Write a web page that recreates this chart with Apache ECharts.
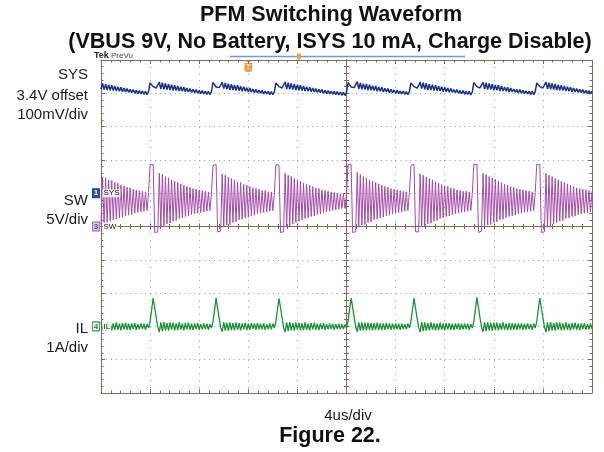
<!DOCTYPE html>
<html><head><meta charset="utf-8">
<script src="https://cdn.jsdelivr.net/npm/echarts@6/dist/echarts.min.js"></script>
<style>html,body{margin:0;padding:0;background:#fff}#c{width:604px;height:452px}</style>
</head><body><div id="c"></div>
<script>
// time base: one sample every 0.125 us, 10 div x 4 us = 40 us
const DT = 0.125;
const TIME_MAX = 40;
const TRIGGER_T = 12;

// SW node voltage (V), read burst by burst
const SW = [
  0.3,7.4,0.4,7.3,0.6,7.0,0.8,6.9,1.0,6.6,1.1,6.5,1.3,6.2,1.4,6.1,1.6,5.9,1.7,5.8,1.8,5.6,2.0,5.5,2.1,5.4,2.2,5.3,2.3,5.2,2.4,5.1,
  9.3,9.4,9.3,-0.9,-1.0,-0.8,8.0,-0.1,7.8,0.1,7.5,0.4,7.3,0.5,7.0,0.8,6.8,0.9,6.6,1.2,6.4,1.3,6.2,1.5,6.0,1.6,5.9,1.8,5.7,1.9,5.6,2.0,5.5,2.1,5.4,2.2,5.3,2.3,5.2,2.4,5.0,
  9.2,9.4,9.3,-0.8,-1.0,-0.7,7.9,0.0,7.7,0.2,7.4,0.3,7.2,0.6,7.0,0.7,6.7,1.0,6.6,1.1,6.3,1.3,6.2,1.4,6.0,1.6,5.8,1.7,5.7,1.9,5.6,2.0,5.4,2.1,5.4,2.2,5.2,2.3,5.2,2.4,5.1,
  9.3,9.4,9.2,-0.9,-1.0,-0.8,8.0,-0.1,7.7,0.1,7.5,0.4,7.2,0.6,7.0,0.8,6.8,1.0,6.5,1.2,6.4,1.3,6.2,1.5,6.0,1.6,5.8,1.8,5.7,1.9,5.5,2.0,5.4,2.2,5.3,2.3,5.2,2.4,5.1,2.5,5.0,2.6,4.9,2.7,4.9,2.7,4.8,
  9.3,9.4,9.3,-0.9,-1.0,-0.8,8.1,-0.1,7.8,0.2,7.5,0.3,7.3,0.6,7.0,0.7,6.8,1.0,6.6,1.1,6.4,1.3,6.2,1.4,6.0,1.6,5.9,1.7,5.7,1.9,5.6,2.0,5.5,2.1,5.4,2.2,5.3,2.3,5.2,2.4,5.1,
  9.2,9.4,9.3,-0.8,-1.0,-0.8,7.9,0.0,7.7,0.1,7.4,0.4,7.2,0.5,7.0,0.8,6.7,0.9,6.5,1.2,6.3,1.3,6.1,1.5,6.0,1.6,5.8,1.8,5.7,1.9,5.5,2.0,5.4,2.1,5.3,2.2,5.3,2.3,5.2,2.4,5.0,
  9.3,9.4,9.3,-0.9,-1.0,-0.7,8.0,-0.1,7.8,0.2,7.5,0.3,7.3,0.6,7.1,0.7,6.8,1.0,6.6,1.1,6.4,1.3,6.2,1.5,6.0,1.6,5.9,1.7,5.7,1.9,5.6,2.0,5.5,2.1,5.4,2.2,5.3,2.3,5.2,2.4,5.1,
  9.3,9.4,9.3,-0.9,-1.0,-0.8,8.0,-0.1,7.7,0.1,7.5,0.4,7.2,0.6,7.0,0.8,6.8,0.9,6.6,1.2,6.4,1.3,6.2,1.5,6.0,1.6,5.8,1.8,5.7,1.9,5.6,2.0,5.5,2.1,5.4,2.2,5.3
];

// SYS voltage (V)
const SYS = [
  3.712,3.730,3.711,3.727,3.710,3.726,3.709,3.724,3.708,3.722,3.707,3.720,3.706,3.718,3.705,3.716,3.704,3.714,3.703,3.712,3.702,3.711,3.700,3.709,3.699,3.708,3.698,3.707,3.697,3.706,3.696,3.705,
  3.731,3.728,3.720,3.716,3.716,3.722,3.734,3.713,3.732,3.712,3.730,3.711,3.728,3.710,3.726,3.709,3.724,3.708,3.722,3.707,3.720,3.706,3.718,3.705,3.716,3.704,3.714,3.703,3.712,3.702,3.711,3.700,3.709,3.699,3.708,3.698,3.707,3.697,3.706,3.696,3.705,
  3.733,3.727,3.719,3.715,3.717,3.723,3.733,3.714,3.731,3.712,3.729,3.710,3.727,3.710,3.725,3.708,3.724,3.708,3.721,3.706,3.720,3.706,3.717,3.704,3.716,3.704,3.713,3.702,3.712,3.701,3.710,3.700,3.709,3.698,3.707,3.698,3.706,3.696,3.705,3.696,3.704,
  3.731,3.728,3.720,3.716,3.716,3.722,3.734,3.713,3.732,3.712,3.730,3.711,3.728,3.710,3.726,3.709,3.724,3.708,3.722,3.707,3.720,3.706,3.718,3.705,3.716,3.704,3.714,3.703,3.712,3.702,3.711,3.700,3.709,3.699,3.708,3.698,3.707,3.697,3.706,3.696,3.705,3.695,3.704,3.694,3.703,3.694,3.702,
  3.732,3.727,3.719,3.716,3.717,3.722,3.735,3.713,3.731,3.712,3.729,3.711,3.728,3.709,3.726,3.709,3.723,3.708,3.722,3.706,3.719,3.706,3.718,3.704,3.715,3.704,3.714,3.702,3.712,3.702,3.710,3.700,3.709,3.699,3.707,3.698,3.707,3.697,3.705,3.696,3.705,
  3.731,3.728,3.720,3.715,3.716,3.723,3.734,3.714,3.732,3.712,3.730,3.710,3.727,3.710,3.726,3.708,3.724,3.708,3.721,3.707,3.720,3.705,3.718,3.705,3.716,3.703,3.714,3.703,3.711,3.702,3.711,3.700,3.708,3.699,3.708,3.697,3.706,3.697,3.706,3.695,3.704,
  3.732,3.728,3.720,3.716,3.716,3.722,3.733,3.713,3.732,3.711,3.730,3.711,3.728,3.709,3.725,3.709,3.724,3.707,3.722,3.707,3.719,3.706,3.718,3.704,3.716,3.704,3.713,3.703,3.712,3.701,3.711,3.700,3.709,3.699,3.707,3.698,3.707,3.696,3.706,3.696,3.705,
  3.731,3.728,3.720,3.716,3.716,3.722,3.734,3.713,3.732,3.712,3.730,3.711,3.728,3.710,3.726,3.709,3.724,3.708,3.722,3.707,3.720,3.706,3.718,3.705,3.716,3.704,3.714,3.703,3.712,3.702,3.711,3.700,3.709,3.699,3.708,3.698,3.707
];

// inductor current (A)
const IL = [
  0.13,-0.12,0.10,-0.13,0.12,-0.10,0.11,-0.12,0.09,-0.11,0.12,-0.10,0.08,-0.12,0.10,-0.09,0.11,-0.10,0.08,-0.11,0.09,-0.08,0.10,-0.10,0.07,-0.09,0.09,-0.08,0.08,-0.10,0.07,-0.05,
  0.15,0.50,0.85,0.56,0.26,-0.02,-0.17,0.12,-0.14,0.13,-0.12,0.10,-0.13,0.12,-0.10,0.11,-0.12,0.09,-0.11,0.12,-0.10,0.08,-0.12,0.10,-0.09,0.11,-0.10,0.08,-0.11,0.09,-0.08,0.10,-0.10,0.07,-0.09,0.09,-0.08,0.08,-0.10,0.07,-0.05,
  0.14,0.49,0.86,0.55,0.25,-0.03,-0.16,0.13,-0.13,0.11,-0.13,0.12,-0.11,0.10,-0.12,0.12,-0.10,0.10,-0.12,0.09,-0.09,0.11,-0.11,0.08,-0.10,0.10,-0.08,0.09,-0.10,0.10,-0.09,0.08,-0.09,0.09,-0.10,0.07,-0.08,0.09,-0.09,0.08,-0.04,
  0.15,0.50,0.84,0.56,0.26,-0.02,-0.17,0.12,-0.14,0.13,-0.12,0.10,-0.13,0.12,-0.10,0.11,-0.12,0.09,-0.11,0.12,-0.10,0.08,-0.12,0.10,-0.09,0.11,-0.10,0.08,-0.11,0.09,-0.08,0.10,-0.10,0.07,-0.09,0.09,-0.08,0.08,-0.10,0.07,-0.08,0.08,-0.09,0.07,-0.08,0.06,-0.05,
  0.16,0.51,0.85,0.57,0.27,-0.01,-0.16,0.12,-0.13,0.12,-0.12,0.11,-0.12,0.11,-0.11,0.10,-0.12,0.10,-0.10,0.11,-0.11,0.09,-0.11,0.09,-0.10,0.10,-0.09,0.09,-0.10,0.08,-0.09,0.09,-0.09,0.08,-0.10,0.08,-0.08,0.07,-0.09,0.08,-0.05,
  0.15,0.50,0.85,0.55,0.25,-0.02,-0.17,0.13,-0.14,0.12,-0.13,0.10,-0.12,0.12,-0.10,0.10,-0.12,0.09,-0.11,0.11,-0.10,0.09,-0.12,0.10,-0.09,0.10,-0.10,0.08,-0.11,0.09,-0.08,0.09,-0.10,0.08,-0.09,0.08,-0.08,0.08,-0.10,0.07,-0.05,
  0.15,0.51,0.87,0.57,0.26,-0.02,-0.16,0.12,-0.14,0.12,-0.12,0.11,-0.13,0.11,-0.11,0.11,-0.12,0.09,-0.10,0.12,-0.10,0.08,-0.11,0.10,-0.10,0.10,-0.10,0.09,-0.10,0.09,-0.08,0.09,-0.10,0.08,-0.09,0.09,-0.08,0.07,-0.10,0.08,-0.05,
  0.15,0.50,0.85,0.56,0.26,-0.02,-0.17,0.12,-0.14,0.13,-0.12,0.10,-0.13,0.12,-0.10,0.11,-0.12,0.09,-0.11,0.12,-0.10,0.08,-0.12,0.10,-0.09,0.11,-0.10,0.08,-0.11,0.09,-0.08,0.10,-0.10,0.07,-0.09,0.09,-0.08
];

// channel scales and reference levels
const SYS_RANGE = [2.8, 3.8];   // 3.4 V offset, 100 mV/div
const SW_RANGE = [-25, 25];     // 5 V/div
const IL_RANGE = [-2, 8];       // 1 A/div
const SYS_REF = 3.4, SW_REF = 0, IL_REF = 0;

const LEFT_LABELS = [
  ['SYS', 75], ['3.4V offset', 96], ['100mV/div', 115],
  ['SW', 201], ['5V/div', 220],
  ['IL', 329], ['1A/div', 348]
];

const FONT = '"Liberation Sans", Arial, sans-serif';
const BORDER = '#86695a';
const DOT = '#98aabd';

const chart = echarts.init(document.getElementById('c'), null, {renderer: 'canvas'});

function divAxis(extra) {
  return Object.assign({
    type: 'value', min: -5, max: 5, interval: 1,
    axisLabel: {show: false},
    splitLine: {show: false},
    axisLine: {show: true, onZero: false, lineStyle: {color: BORDER, width: 1}},
    axisTick: {show: true, inside: true, length: 4, lineStyle: {color: BORDER}},
    minorTick: {show: true, splitNumber: 5, length: 2.5, lineStyle: {color: BORDER}}
  }, extra);
}
const centerLine = (idx) => ({show: true, onZero: true, onZeroAxisIndex: idx, lineStyle: {color: BORDER, width: 1}});

const toXY = (arr) => arr.map((v, i) => [i * DT, v]);

function chMarker(ref, num, name, fill, stroke, numColor) {
  return {
    silent: true, animation: false,
    data: [
      {coord: [0, ref], symbol: 'rect', symbolSize: [7, 9], symbolOffset: [-5, 0],
       itemStyle: {color: fill, borderColor: stroke, borderWidth: 1},
       label: {show: true, position: 'inside', formatter: num, color: numColor, fontSize: 8, fontWeight: 'bold', fontFamily: FONT}},
      {coord: [0, ref], symbol: 'rect', symbolSize: 1, symbolOffset: [0, 0],
       itemStyle: {color: 'rgba(0,0,0,0)'},
       label: {show: true, position: 'right', distance: 1, formatter: name, color: '#2a2018', fontSize: 8, fontFamily: FONT,
               backgroundColor: 'rgba(255,255,250,0.85)', padding: [0, 1]}}
    ]
  };
}

const textEl = (text, x, y, font, align, fill) => ({
  type: 'text', silent: true,
  style: {text, x, y, font, fill: fill || '#111', align: align || 'center', verticalAlign: 'middle',
          textAlign: align || 'center', textVerticalAlign: 'middle'}
});

const graphics = [
  textEl('PFM Switching Waveform', 331, 15, 'bold 21.5px ' + FONT),
  textEl('(VBUS 9V, No Battery, ISYS 10 mA, Charge Disable)', 330, 42.5, 'bold 21.5px ' + FONT),
  textEl('4us/div', 348, 416, '15px ' + FONT, 'center', '#1a1a1a'),
  textEl('Figure 22.', 330, 436, 'bold 21.5px ' + FONT),
  textEl('Tek', 94, 56, 'bold 9px ' + FONT, 'left', '#222'),
  textEl('PreVu', 111, 56, '8px ' + FONT, 'left', '#5a4430'),
  {type: 'line', silent: true, shape: {x1: 230, y1: 56.5, x2: 465, y2: 56.5}, style: {stroke: '#6c9ad6', lineWidth: 1.5}},
  {type: 'rect', silent: true, shape: {x: 297, y: 53.5, width: 4, height: 6, r: 1}, style: {fill: '#f2a23a'}}
].concat(LEFT_LABELS.map(([t, y]) => textEl(t, 88, y, '15px ' + FONT, 'right', '#1a1a1a')));

chart.setOption({
  backgroundColor: '#ffffff',
  animation: false,
  textStyle: {fontFamily: FONT},
  grid: {left: 101, right: 12, top: 60, bottom: 59, show: false},
  xAxis: [
    divAxis({position: 'bottom', splitLine: {show: true, lineStyle: {color: DOT, width: 1, type: [1.2, 5.47]}}}),
    divAxis({position: 'top'}),
    divAxis({position: 'bottom', axisLine: centerLine(0), axisTick: {show: true, inside: true, length: 3, lineStyle: {color: BORDER}}}),
    divAxis({position: 'bottom', axisLine: centerLine(0), axisTick: {show: true, inside: false, length: 3, lineStyle: {color: BORDER}}}),
    {type: 'value', min: 0, max: TIME_MAX, show: false, splitLine: {show: false}}
  ],
  yAxis: [
    divAxis({position: 'left', splitLine: {show: true, lineStyle: {color: DOT, width: 1, type: [1.2, 3.71]}}}),
    divAxis({position: 'right'}),
    divAxis({position: 'left', axisLine: centerLine(0), axisTick: {show: true, inside: true, length: 3, lineStyle: {color: BORDER}}}),
    divAxis({position: 'left', axisLine: centerLine(0), axisTick: {show: true, inside: false, length: 3, lineStyle: {color: BORDER}}}),
    {type: 'value', min: SYS_RANGE[0], max: SYS_RANGE[1], show: false, splitLine: {show: false}},
    {type: 'value', min: SW_RANGE[0], max: SW_RANGE[1], show: false, splitLine: {show: false}},
    {type: 'value', min: IL_RANGE[0], max: IL_RANGE[1], show: false, splitLine: {show: false}}
  ],
  series: [
    {type: 'line', name: 'SW', xAxisIndex: 4, yAxisIndex: 5, data: toXY(SW), symbol: 'none', silent: true,
     lineStyle: {color: '#a54aa8', width: 1}, z: 3,
     markPoint: chMarker(SW_REF, '3', 'SW', '#dcc2ea', '#9a62b2', '#7e3f9c')},
    {type: 'line', name: 'SYS', xAxisIndex: 4, yAxisIndex: 4, data: toXY(SYS), symbol: 'none', silent: true,
     lineStyle: {color: '#1a3388', width: 1.5}, z: 4,
     markPoint: chMarker(SYS_REF, '1', 'SYS', '#2352a3', '#1d3d92', '#ffffff')},
    {type: 'line', name: 'IL', xAxisIndex: 4, yAxisIndex: 6, data: toXY(IL), symbol: 'none', silent: true,
     lineStyle: {color: '#1b9139', width: 1.3}, z: 4,
     markPoint: chMarker(IL_REF, '4', 'IL', '#eef8ee', '#2f9a48', '#2a8a3a')}
  ],
  graphic: graphics
});

// trigger marker placed at trigger time through the time axis
const tx = chart.convertToPixel({xAxisIndex: 4}, TRIGGER_T);
chart.setOption({graphic: graphics.concat([
  {type: 'polygon', silent: true, shape: {points: [[tx - 3, 60.5], [tx + 3, 60.5], [tx, 63.5]]}, style: {fill: '#f2a23a'}},
  {type: 'rect', silent: true, shape: {x: tx - 4, y: 63, width: 8, height: 9, r: [0, 0, 3, 3]}, style: {fill: '#f2a23a'}},
  textEl('T', tx, 67.5, 'bold 7px ' + FONT, 'center', '#fff6e6')
])});
</script>
</body></html>
